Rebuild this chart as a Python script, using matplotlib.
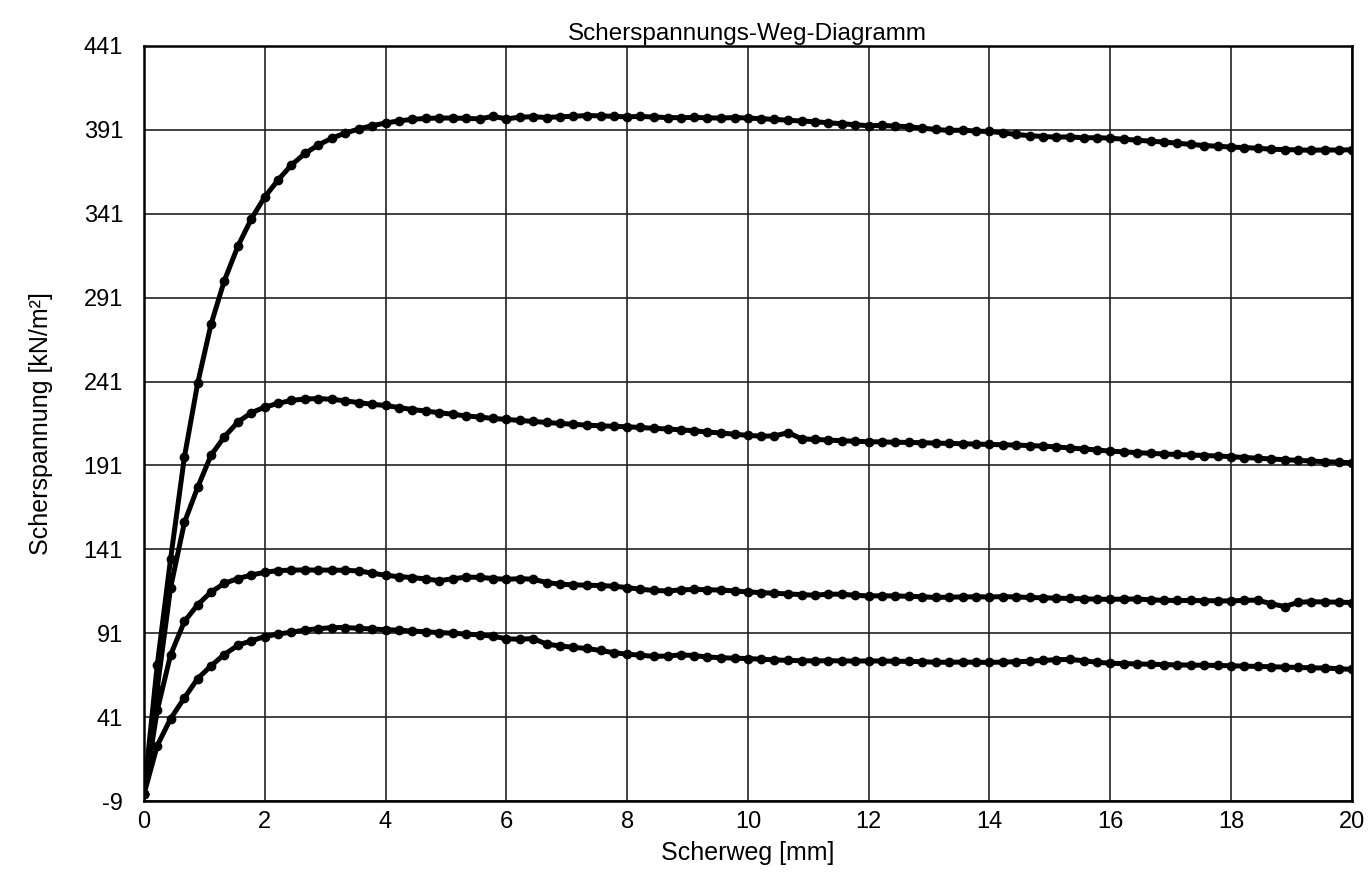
import matplotlib
matplotlib.use("Agg")
import matplotlib.pyplot as plt

plt.rcParams['font.family'] = ['Liberation Sans', 'DejaVu Sans']

# Scherweg [mm] (sampling positions)
scherweg = [0.00, 0.22, 0.44, 0.67, 0.89, 1.11, 1.33, 1.56, 1.78, 2.00,
            2.22, 2.44, 2.67, 2.89, 3.11, 3.33, 3.56, 3.78, 4.00, 4.22,
            4.44, 4.67, 4.89, 5.11, 5.33, 5.56, 5.78, 6.00, 6.22, 6.44,
            6.67, 6.89, 7.11, 7.33, 7.56, 7.78, 8.00, 8.22, 8.44, 8.67,
            8.89, 9.11, 9.33, 9.56, 9.78, 10.00, 10.22, 10.44, 10.67, 10.89,
            11.11, 11.33, 11.56, 11.78, 12.00, 12.22, 12.44, 12.67, 12.89, 13.11,
            13.33, 13.56, 13.78, 14.00, 14.22, 14.44, 14.67, 14.89, 15.11, 15.33,
            15.56, 15.78, 16.00, 16.22, 16.44, 16.67, 16.89, 17.11, 17.33, 17.56,
            17.78, 18.00, 18.22, 18.44, 18.67, 18.89, 19.11, 19.33, 19.56, 19.78,
            20.00]

kurve_1 = [-5, 72, 135, 196, 240, 275, 301, 322, 338, 351,
           361, 370, 377, 382, 386, 389, 391.5, 393.5, 395, 396.3,
           397.2, 397.8, 398, 398, 397.8, 397.5, 399, 397.5, 398.5, 398.8,
           398.3, 398.8, 399, 399.5, 399.3, 399, 398.7, 399, 398.6, 398.3,
           398.2, 398.4, 398.1, 398, 398.3, 398, 397.6, 397.2, 396.7, 396.2,
           395.8, 395.2, 394.6, 394, 393.4, 393.6, 393.2, 392.8, 392, 391.2,
           390.6, 390.8, 390.2, 390, 389.2, 388.2, 387.5, 387, 386.6, 386.8,
           386.2, 386.3, 386, 385.4, 384.8, 384.2, 383.7, 383, 382.3, 381.6,
           381.2, 380.7, 380.4, 380, 379.4, 379.2, 379, 378.8, 379, 378.9,
           379.1]

kurve_2 = [-5, 58, 118, 157, 178, 197, 208, 217, 222.4, 225.7,
           228, 229.7, 230.6, 230.8, 230.4, 229.5, 228.4, 227.4, 226.7, 225.5,
           224.3, 223.4, 222.4, 221.5, 220.5, 219.8, 219, 218.4, 217.8, 217.2,
           216.6, 216, 215.5, 215, 214.6, 214.3, 214, 213.6, 213.1, 212.7,
           212.2, 211.6, 210.9, 210.3, 209.6, 208.9, 208.4, 208.6, 210.5, 206.8,
           206.5, 206.1, 205.7, 205.4, 205.1, 205, 204.8, 204.7, 204.5, 204.3,
           204.1, 203.9, 203.7, 203.5, 203.3, 203.1, 202.8, 202.5, 202, 201.4,
           200.8, 200.2, 199.5, 199.1, 198.6, 198.2, 197.8, 197.5, 197.2, 196.9,
           196.6, 196.2, 195.7, 195.3, 194.8, 194.4, 194, 193.6, 193.2, 192.9,
           192.6]

kurve_3 = [-5, 45, 78, 98, 108, 115.5, 120.7, 123.6, 125.7, 127.3,
           128.3, 128.6, 128.7, 128.6, 128.6, 128.5, 128.1, 126.8, 125.5, 124.7,
           124.2, 123.3, 122.3, 123.4, 124.4, 124.3, 123.6, 123.1, 123.5, 123.2,
           121.2, 120.2, 119.8, 119.6, 119.4, 119, 118.2, 117.2, 116.5, 116.2,
           116.8, 117.1, 116.9, 116.7, 116.2, 115.6, 115.2, 114.8, 114.4, 114,
           113.6, 114.3, 114.2, 113.6, 113.2, 113.3, 113.2, 113, 112.7, 112.3,
           112.5, 112.6, 112.7, 112.6, 112.8, 112.6, 112.3, 112.1, 111.9, 111.7,
           111.5, 111.3, 111.2, 111.3, 111.4, 110.9, 110.6, 110.5, 110.5, 110.4,
           110.3, 110.2, 110.6, 110.7, 108.5, 106.9, 109.4, 109.8, 109.6, 109.5,
           109.3]

kurve_4 = [-5, 24, 40, 52.5, 64, 71.5, 78.3, 83.9, 86.5, 89,
           90.5, 91.6, 92.9, 93.7, 94.3, 94.4, 93.9, 93.5, 93.1, 92.8,
           92.3, 91.8, 91.4, 91, 90.5, 90, 89.2, 87.7, 87.4, 87.8,
           84.5, 83.4, 82.6, 81.9, 80.7, 79.4, 78.5, 77.9, 77.2, 77.4,
           78.1, 77.7, 76.8, 76.4, 76.1, 75.9, 75.5, 75.1, 74.8, 74.6,
           74.5, 74.6, 74.5, 74.4, 74.5, 74.4, 74.3, 74.2, 74, 73.7,
           73.7, 73.8, 73.7, 73.6, 73.8, 74, 74.3, 74.8, 75.2, 75.4,
           74.6, 73.7, 73.1, 72.9, 72.7, 72.5, 72.3, 72.1, 72, 71.9,
           71.8, 71.6, 71.4, 71.2, 71, 70.8, 70.6, 70.4, 70.2, 69.9,
           69.4]

x_ticks = [0, 2, 4, 6, 8, 10, 12, 14, 16, 18, 20]
y_ticks = [-9, 41, 91, 141, 191, 241, 291, 341, 391, 441]

fig = plt.figure(figsize=(13.71, 8.74), dpi=100)
ax = fig.add_axes([0.105, 0.0835, 0.881, 0.864])

for kurve in (kurve_1, kurve_2, kurve_3, kurve_4):
    ax.plot(scherweg, kurve, color='black', lw=3.6, marker='o', markersize=6,
            solid_capstyle='round', zorder=3)

ax.set_xlim(0, 20)
ax.set_ylim(-9, 441)
ax.set_xticks(x_ticks)
ax.set_yticks(y_ticks)
ax.set_xticklabels([str(t) for t in x_ticks])
ax.set_yticklabels([str(t) for t in y_ticks])
ax.grid(True, color='#222222', lw=1.2, zorder=1)
ax.tick_params(axis='both', length=0, labelsize=17)
ax.tick_params(axis='y', pad=15)
ax.tick_params(axis='x', pad=7)
for s in ax.spines.values():
    s.set_linewidth(1.8)
    s.set_color('black')

ax.set_title('Scherspannungs-Weg-Diagramm', fontsize=17.5, pad=4)
ax.set_xlabel('Scherweg [mm]', fontsize=18, labelpad=6)
ax.set_ylabel('Scherspannung [kN/m²]', fontsize=18, labelpad=22)

fig.savefig('out.png', dpi=100)
